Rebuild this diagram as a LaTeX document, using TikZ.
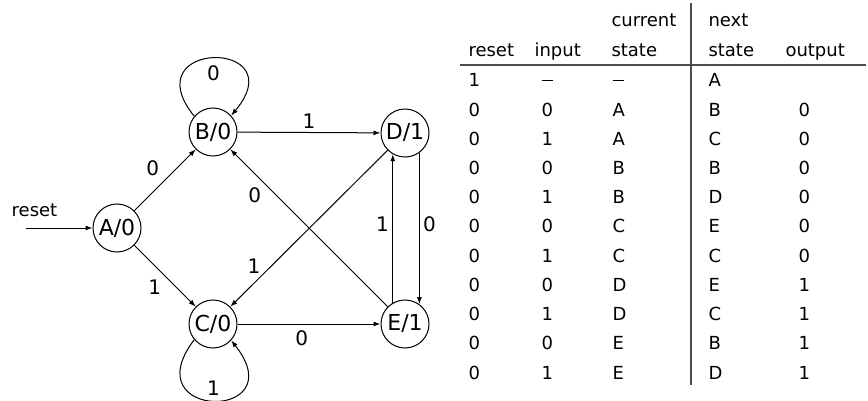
\documentclass[tikz,border=0pt]{standalone}
\usepackage{fontspec}
\setmainfont{DejaVu Sans}
\usetikzlibrary{arrows.meta}
\newcommand\nodash{\rule[6pt]{11pt}{1.2pt}}
\tikzset{
  >={Latex[length=7pt,width=5pt]},
  state/.style={draw,circle,minimum size=48pt,inner sep=0pt,font=\fontsize{22}{26}\selectfont},
  lbl/.style={font=\fontsize{20}{24}\selectfont},
  cell/.style={anchor=base west,inner sep=0pt,font=\fontsize{18}{21}\selectfont}
}

\begin{document}
\begin{tikzpicture}[x=1pt,y=-1pt,line width=1pt]
  \useasboundingbox (0,0) rectangle (868,401);
  % state diagram
  \node[state] (A) at (117,228) {A/0};
  \node[state] (B) at (213,132) {B/0};
  \node[state] (C) at (213,324) {C/0};
  \node[state] (D) at (405,133) {D/1};
  \node[state] (E) at (405,324) {E/1};
  \coordinate (start) at (26,228);
  \node[font=\fontsize{18}{21}\selectfont] (rst) at (34.5,210) {reset};
  \draw[->] (start) -- (A);
  \draw[->] (A) -- (B) node[lbl,midway,above left,xshift=-2pt]{0};
  \draw[->] (A) -- (C) node[lbl,midway,below left]{1};
  \draw[->] (B) -- (D) node[lbl,midway,above]{1};
  \draw[->] (C) -- (E) node[lbl,pos=0.45,below=3pt]{0};
  \draw[->] (E) -- (B) node[lbl,pos=0.78,below left]{0};
  \draw[->] (D) -- (C) node[lbl,pos=0.8,above left,inner sep=1pt]{1};
  \draw[->] (D.-54) -- (E.54) node[lbl,pos=0.47,right]{0};
  \draw[->] (E.120) -- (D.-120) node[lbl,pos=0.53,left]{1};
  \draw[->] (B.140) .. controls +(-62,-77) and +(64,-77) .. (B.42)
    node[lbl,midway,below=4pt]{0};
  \draw[->] (C.-140) .. controls +(-62,81) and +(64,81) .. (C.-42)
    node[lbl,midway,above=1pt]{1};
  % state table
  \node[cell] (hcur) at (611,27) {current};
  \node[cell] (hnext) at (708,27) {next};
  \node[cell] (hrst) at (468,56.5) {reset};
  \node[cell] (hin) at (534,56.5) {input};
  \node[cell] (hcs) at (611,56.5) {state};
  \node[cell] (hns) at (708,56.5) {state};
  \node[cell] (hout) at (785,56.5) {output};
  \draw[line width=1.3pt,black!70] (460,65) -- (866,65);
  \draw[line width=1.3pt,black!70] (691,3) -- (691,385);
  \foreach \r/\i/\c/\n/\o [count=\k from 0] in {1/\nodash/\nodash/A/{},0/0/A/B/0,0/1/A/C/0,
      0/0/B/B/0,0/1/B/D/0,0/0/C/E/0,0/1/C/C/0,0/0/D/E/1,0/1/D/C/1,0/0/E/B/1,0/1/E/D/1}{
    \node[cell] at (468,{87+29.2*\k}) {\r};
    \node[cell] at (541,{87+29.2*\k}) {\i};
    \node[cell] at (612,{87+29.2*\k}) {\c};
    \node[cell] at (708,{87+29.2*\k}) {\n};
    \node[cell] at (798,{87+29.2*\k}) {\o};
  }
\end{tikzpicture}
\end{document}
